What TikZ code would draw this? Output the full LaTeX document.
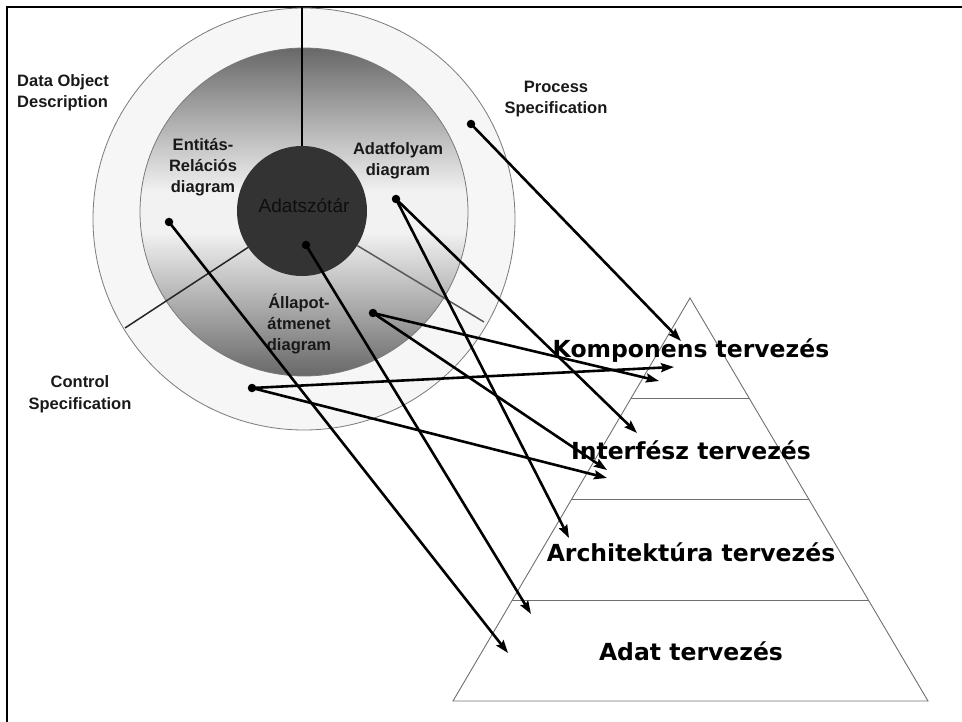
\documentclass[tikz,border=0pt]{standalone}
\usepackage{fontspec}
\setmainfont{Liberation Sans}
\newfontfamily\pyrfont{DejaVu Sans}
\usetikzlibrary{arrows.meta,calc}
\definecolor{ringfill}{HTML}{F6F6F6}
\definecolor{ringline}{HTML}{7A7A7A}
\definecolor{discdark}{HTML}{686868}
\definecolor{disclight}{HTML}{F2F2F2}
\definecolor{core}{HTML}{333333}
\definecolor{coretext}{HTML}{0E0E0E}
\definecolor{pyrline}{HTML}{707070}
\pgfdeclareverticalshading{discshade}{100bp}{color(0bp)=(discdark); color(25bp)=(discdark); color(47bp)=(disclight); color(53bp)=(disclight); color(75bp)=(discdark); color(100bp)=(discdark)}
\begin{document}
\begin{tikzpicture}[x=1pt,y=-1pt,
  lbl/.style={font=\bfseries\fontsize{16.5}{21.3}\selectfont, align=center, text=black!90, inner sep=0pt, anchor=base},
  dot/.style={circle, fill=black, minimum size=8.5pt, inner sep=0pt},
  arr/.style={line width=2.6pt, -{Stealth[length=13pt,width=9pt,inset=2pt]}},
  level/.style={font=\pyrfont\bfseries\fontsize{23.5}{28}\selectfont, inner sep=0pt, anchor=base},
  divider/.style={line width=1.5pt},
  pyr/.style={draw=pyrline, line width=0.9pt}]
\useasboundingbox (0,0) rectangle (962,722);

% frame (top and left edges)
\draw[line width=2.6pt] (7,722) -- (7,7) -- (962,7);

% rings of the analysis model
\filldraw[fill=ringfill, draw=ringline, line width=0.8pt] (304,219) circle[radius=211];
\shade[shading=discshade] (304,212) circle[radius=164];
\draw[ringline, line width=0.8pt] (304,212) circle[radius=164];
\node[circle, fill=core, minimum size=130pt, inner sep=0pt] (core) at (302,211) {};
\node[font=\fontsize{19}{19}\selectfont, text=coretext, anchor=base, inner sep=0pt] (coretxt) at (304,213) {Adatszótár};

% sector dividers
\coordinate (topend) at (302,7);
\coordinate (llend) at (125,328);
\coordinate (lrend) at (484,322);
\draw[divider] (topend) -- (core.north);
\draw[divider, black!85] (core.214) -- (llend);
\draw[divider, black!65] (core.328) -- (lrend);

% labels (anchored at the baseline of their last line)
\node[lbl, align=left, anchor=base west] (dod) at (17,108) {Data Object\\Description};
\node[lbl] (ps) at (556,114) {Process\\Specification};
\node[lbl] (er) at (203,193) {Entitás-\\Relációs\\diagram};
\node[lbl] (df) at (398,176) {Adatfolyam\\diagram};
\node[lbl] (st) at (299,351) {Állapot-\\átmenet\\diagram};
\node[lbl] (cs) at (80,409) {Control\\Specification};

% design pyramid
\coordinate (apex) at (690,298);
\coordinate (bl) at (453,701);
\coordinate (br) at (928,701);
\draw[pyr] (apex) -- (bl) -- (br) -- cycle;
\foreach \t in {0.25,0.5,0.75}
  \draw[pyr] ($(apex)!\t!(bl)$) -- ($(apex)!\t!(br)$);

\node[level] (komp) at (691,357) {Komponens tervezés};
\node[level] (intf) at (691,459) {Interfész tervezés};
\node[level] (arch) at (691,561) {Architektúra tervezés};
\node[level] (adat) at (691,660) {Adat tervezés};

% mapping arrows
\node[dot] (pdot) at (471,124) {};
\node[dot] (edot) at (169,222) {};
\node[dot] (ddot) at (306,245) {};
\node[dot] (fdot) at (396,199) {};
\node[dot] (sdot) at (373,313) {};
\node[dot] (cdot) at (252,388) {};

\coordinate (p1) at (681,341);
\coordinate (e1) at (508,653);
\coordinate (d1) at (531,614);
\coordinate (f1) at (637,433);
\coordinate (f2) at (569,538);
\coordinate (s1) at (659,381);
\coordinate (s2) at (607,470);
\coordinate (c1) at (674,367);
\coordinate (c2) at (607,478);

\draw[arr] (pdot.center) -- (p1);
\draw[arr] (edot.center) -- (e1);
\draw[arr] (ddot.center) -- (d1);
\draw[arr] (fdot.center) -- (f1);
\draw[arr] (fdot.center) -- (f2);
\draw[arr] (sdot.center) -- (s1);
\draw[arr] (sdot.center) -- (s2);
\draw[arr] (cdot.center) -- (c1);
\draw[arr] (cdot.center) -- (c2);
\end{tikzpicture}
\end{document}
